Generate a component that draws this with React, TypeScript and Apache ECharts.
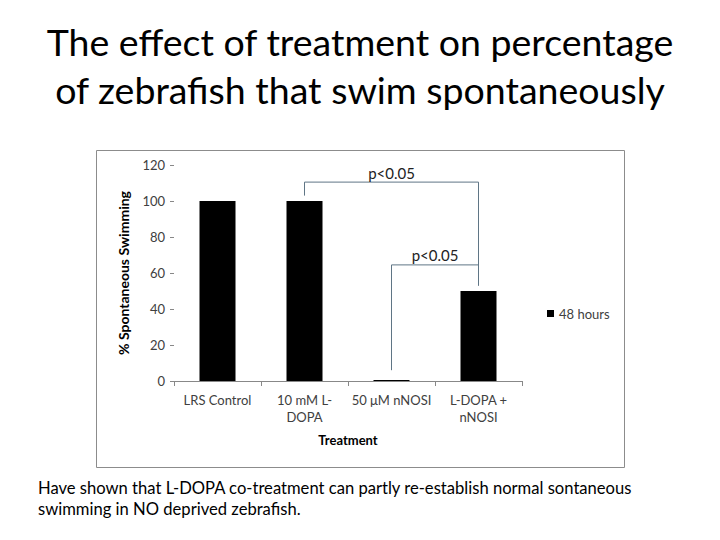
import React, { useEffect, useRef } from "react";
import * as echarts from "echarts";

const categories = ["LRS Control", "10 mM L-\nDOPA", "50 μM nNOSI", "L-DOPA +\nnNOSI"];
const seriesName = "48 hours";
const values = [100, 100, 0.6, 50];
const yTicks = { min: 0, max: 120, interval: 20 };
// [fromCategoryIndex, toCategoryIndex, topValue, leftEndValue, rightEndValue]
const bracketData = [
  [1, 3, 110.5, 103, 53],
  [2, 3, 64.5, 6, 53],
];
const bracketLabels = ["p<0.05", "p<0.05"];
const titleLines = ["The effect of treatment on percentage", "of zebrafish that swim spontaneously"];
const noteLines = [
  "Have shown that L-DOPA co-treatment can partly re-establish normal sontaneous",
  "swimming in NO deprived zebrafish.",
];

const FONT = "Lato, 'Open Sans', sans-serif";
const BRACKET = "#5f7585";

export default function App() {
  const ref = useRef<HTMLDivElement>(null);
  useEffect(() => {
    if (!ref.current) return;
    const chart = echarts.init(ref.current, undefined, { renderer: "svg" });
    chart.setOption({
      animation: false,
      backgroundColor: "#ffffff",
      textStyle: { fontFamily: FONT },
      title: {
        text: titleLines.join("\n"),
        left: "center",
        top: 12,
        textStyle: {
          fontFamily: FONT,
          fontSize: 37.5,
          fontWeight: "normal",
          color: "#000",
          lineHeight: 48,
        },
      },
      legend: {
        data: [seriesName],
        left: 542,
        top: 302,
        itemWidth: 7,
        itemHeight: 7,
        icon: "rect",
        itemGap: 5,
        textStyle: { fontFamily: FONT, fontSize: 13, color: "#404040" },
      },
      grid: { left: 174, top: 165, width: 348, height: 216, containLabel: false },
      xAxis: {
        type: "category",
        data: categories,
        name: "Treatment",
        nameLocation: "middle",
        nameGap: 52,
        nameTextStyle: { fontFamily: FONT, fontSize: 13, fontWeight: "bold", color: "#000" },
        axisLine: { show: true, lineStyle: { color: "#888", width: 1 } },
        axisTick: { show: true, length: 5, lineStyle: { color: "#888" } },
        axisLabel: {
          fontFamily: FONT,
          fontSize: 13,
          color: "#404040",
          lineHeight: 17,
          margin: 10,
          interval: 0,
        },
      },
      yAxis: {
        type: "value",
        min: yTicks.min,
        max: yTicks.max,
        interval: yTicks.interval,
        name: "% Spontaneous Swimming",
        nameLocation: "middle",
        nameGap: 44,
        nameTextStyle: { fontFamily: FONT, fontSize: 14, fontWeight: "bold", color: "#000" },
        axisLine: { show: false },
        axisTick: { show: true, length: 4, inside: false, lineStyle: { color: "#888" } },
        splitLine: { show: false },
        axisLabel: { fontFamily: FONT, fontSize: 13, color: "#404040", margin: 9 },
      },
      graphic: [
        {
          type: "rect",
          shape: { x: 96.5, y: 150.5, width: 528, height: 317 },
          style: { fill: "none", stroke: "#8c8c8c", lineWidth: 1 },
          silent: true,
        },
        ...noteLines.map((t, i) => ({
          type: "text",
          left: 38,
          top: 479 + i * 21,
          style: { text: t, fontFamily: FONT, fontSize: 16.6, fill: "#000" },
        })),
      ],
      series: [
        {
          name: seriesName,
          type: "bar",
          data: values,
          barWidth: 36,
          itemStyle: { color: "#000" },
        },
        {
          type: "custom",
          name: "brackets",
          data: bracketData,
          encode: { x: [0, 1], y: [2, 3, 4] },
          silent: true,
          z: 5,
          renderItem: (params: any, api: any) => {
            const from = api.value(0);
            const to = api.value(1);
            const top = api.value(2);
            const le = api.value(3);
            const re = api.value(4);
            const pLB = api.coord([from, le]);
            const pLT = api.coord([from, top]);
            const pRT = api.coord([to, top]);
            const pRB = api.coord([to, re]);
            return {
              type: "group",
              children: [
                {
                  type: "polyline",
                  shape: { points: [pLB, pLT, pRT, pRB] },
                  style: { stroke: BRACKET, lineWidth: 1, fill: "none" },
                },
                {
                  type: "text",
                  style: {
                    text: bracketLabels[params.dataIndex],
                    x: (pLT[0] + pRT[0]) / 2,
                    y: pLT[1] - 2,
                    textAlign: "center",
                    textVerticalAlign: "bottom",
                    fontFamily: FONT,
                    fontSize: 15,
                    fill: "#222",
                  },
                },
              ],
            };
          },
        },
      ],
    });
    return () => chart.dispose();
  }, []);
  return (
    <div
      ref={ref}
      style={{ position: "absolute", left: 0, top: 0, width: 720, height: 540 }}
    />
  );
}
